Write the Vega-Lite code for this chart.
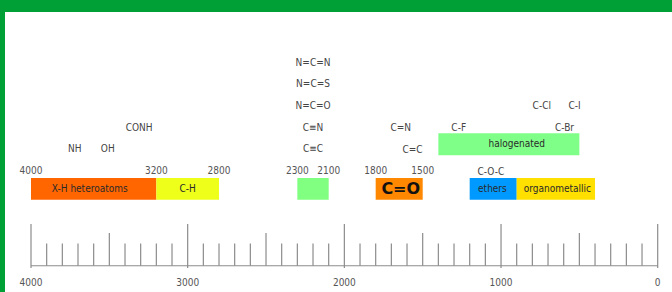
{
  "$schema": "https://vega.github.io/schema/vega-lite/v6.json",
  "width": 672,
  "height": 292,
  "autosize": {"type": "fit", "contains": "padding"},
  "padding": {"top": 12, "left": 5, "right": 0, "bottom": 0},
  "background": "#00A036",
  "config": {
    "view": {"fill": "white", "stroke": null},
    "text": {"font": "DejaVu Sans Condensed"}
  },
  "datasets": {
    "bands": [
      {"name": "XH", "label": "X-H heteroatoms", "from": 4000, "to": 3200, "mid": 3625, "row": "bottom"},
      {"name": "CH", "label": "C-H", "from": 3200, "to": 2800, "mid": 3000, "row": "bottom"},
      {"name": "triple", "label": "", "from": 2300, "to": 2100, "mid": 2200, "row": "bottom"},
      {"name": "CO", "label": "C=O", "from": 1800, "to": 1500, "mid": 1640, "row": "bottom"},
      {"name": "ether", "label": "ethers", "from": 1200, "to": 900, "mid": 1055, "row": "bottom"},
      {"name": "organo", "label": "organometallic", "from": 900, "to": 400, "mid": 640, "row": "bottom"},
      {"name": "halo", "label": "halogenated", "from": 1400, "to": 500, "mid": 900, "row": "upper"}
    ],
    "groups": [
      {"label": "N=C=N", "wn": 2200, "level": 0},
      {"label": "N=C=S", "wn": 2200, "level": 1},
      {"label": "N=C=O", "wn": 2200, "level": 2},
      {"label": "C≡N", "wn": 2200, "level": 3},
      {"label": "C≡C", "wn": 2200, "level": 4},
      {"label": "NH", "wn": 3720, "level": 4},
      {"label": "OH", "wn": 3510, "level": 4},
      {"label": "CONH", "wn": 3310, "level": 3},
      {"label": "C=N", "wn": 1640, "level": 3},
      {"label": "C=C", "wn": 1565, "level": 4.05},
      {"label": "C-F", "wn": 1270, "level": 3},
      {"label": "C-Cl", "wn": 740, "level": 2},
      {"label": "C-I", "wn": 530, "level": 2},
      {"label": "C-Br", "wn": 595, "level": 3},
      {"label": "C-O-C", "wn": 1065, "level": 5.05}
    ],
    "bounds": [
      {"wn": 4000}, {"wn": 3200}, {"wn": 2800}, {"wn": 2300}, {"wn": 2100}, {"wn": 1800}, {"wn": 1500}
    ],
    "ticks": [
      {"wn": 4000, "kind": "major"}, {"wn": 3900, "kind": "minor"}, {"wn": 3800, "kind": "minor"}, {"wn": 3700, "kind": "minor"}, {"wn": 3600, "kind": "minor"},
      {"wn": 3500, "kind": "half"}, {"wn": 3400, "kind": "minor"}, {"wn": 3300, "kind": "minor"}, {"wn": 3200, "kind": "minor"}, {"wn": 3100, "kind": "minor"},
      {"wn": 3000, "kind": "major"}, {"wn": 2900, "kind": "minor"}, {"wn": 2800, "kind": "minor"}, {"wn": 2700, "kind": "minor"}, {"wn": 2600, "kind": "minor"},
      {"wn": 2500, "kind": "half"}, {"wn": 2400, "kind": "minor"}, {"wn": 2300, "kind": "minor"}, {"wn": 2200, "kind": "minor"}, {"wn": 2100, "kind": "minor"},
      {"wn": 2000, "kind": "major"}, {"wn": 1900, "kind": "minor"}, {"wn": 1800, "kind": "minor"}, {"wn": 1700, "kind": "minor"}, {"wn": 1600, "kind": "minor"},
      {"wn": 1500, "kind": "half"}, {"wn": 1400, "kind": "minor"}, {"wn": 1300, "kind": "minor"}, {"wn": 1200, "kind": "minor"}, {"wn": 1100, "kind": "minor"},
      {"wn": 1000, "kind": "major"}, {"wn": 900, "kind": "minor"}, {"wn": 800, "kind": "minor"}, {"wn": 700, "kind": "minor"}, {"wn": 600, "kind": "minor"},
      {"wn": 500, "kind": "half"}, {"wn": 400, "kind": "minor"}, {"wn": 300, "kind": "minor"}, {"wn": 200, "kind": "minor"}, {"wn": 100, "kind": "minor"},
      {"wn": 0, "kind": "major"}
    ],
    "axisline": [{"from": 4000, "to": 0}]
  },
  "encoding": {
    "x": {"field": "wn", "type": "quantitative", "axis": null,
          "scale": {"domain": [-91.27, 4165.95], "reverse": true, "nice": false, "zero": false}}
  },
  "layer": [
    {
      "data": {"name": "bands"},
      "transform": [{"filter": "datum.row === 'bottom'"}],
      "mark": {"type": "rect"},
      "encoding": {
        "x": {"field": "from", "type": "quantitative", "axis": null,
              "scale": {"domain": [-91.27, 4165.95], "reverse": true, "nice": false, "zero": false}},
        "x2": {"field": "to"},
        "y": {"datum": 5.35, "type": "quantitative", "axis": null,
              "scale": {"domain": [-2.372, 10.651], "reverse": true, "nice": false, "zero": false}},
        "y2": {"datum": 6.36},
        "color": {"field": "name", "type": "nominal", "legend": null,
                  "scale": {"domain": ["XH", "CH", "triple", "CO", "ether", "organo", "halo"],
                            "range": ["#FF6600", "#EEFF1A", "#80FF80", "#FF8800", "#0099FF", "#FFE000", "#80FF88"]}}
      }
    },
    {
      "data": {"name": "bands"},
      "transform": [{"filter": "datum.row === 'upper'"}],
      "mark": {"type": "rect"},
      "encoding": {
        "x": {"field": "from", "type": "quantitative"},
        "x2": {"field": "to"},
        "y": {"datum": 3.27, "type": "quantitative"},
        "y2": {"datum": 4.29},
        "color": {"field": "name", "type": "nominal", "legend": null}
      }
    },
    {
      "data": {"name": "bands"},
      "transform": [{"filter": "datum.row === 'bottom' && datum.name !== 'CO'"}],
      "mark": {"type": "text", "fontSize": 10, "color": "#2a2a2a", "baseline": "middle", "align": "center"},
      "encoding": {
        "x": {"field": "mid", "type": "quantitative"},
        "y": {"datum": 5.87, "type": "quantitative"},
        "text": {"field": "label"}
      }
    },
    {
      "data": {"name": "bands"},
      "transform": [{"filter": "datum.name === 'CO'"}],
      "mark": {"type": "text", "fontSize": 16, "font": "DejaVu Sans", "fontWeight": "bold", "color": "#111111", "baseline": "middle", "align": "center"},
      "encoding": {
        "x": {"field": "mid", "type": "quantitative"},
        "y": {"datum": 5.87, "type": "quantitative"},
        "text": {"field": "label"}
      }
    },
    {
      "data": {"name": "bands"},
      "transform": [{"filter": "datum.row === 'upper'"}],
      "mark": {"type": "text", "fontSize": 10, "color": "#2a2a2a", "baseline": "middle", "align": "center"},
      "encoding": {
        "x": {"field": "mid", "type": "quantitative"},
        "y": {"datum": 3.78, "type": "quantitative"},
        "text": {"field": "label"}
      }
    },
    {
      "data": {"name": "groups"},
      "mark": {"type": "text", "fontSize": 10, "color": "#444444", "baseline": "middle", "align": "center"},
      "encoding": {
        "x": {"field": "wn", "type": "quantitative"},
        "y": {"field": "level", "type": "quantitative"},
        "text": {"field": "label"}
      }
    },
    {
      "data": {"name": "bounds"},
      "mark": {"type": "text", "fontSize": 10, "color": "#555555", "baseline": "middle", "align": "center"},
      "encoding": {
        "x": {"field": "wn", "type": "quantitative"},
        "y": {"datum": 5, "type": "quantitative"},
        "text": {"field": "wn", "type": "quantitative", "format": "d"}
      }
    },
    {
      "data": {"name": "ticks"},
      "transform": [{"filter": "datum.kind === 'major'"}],
      "mark": {"type": "rule", "color": "#8c8c8c", "strokeWidth": 1.2},
      "encoding": {
        "x": {"field": "wn", "type": "quantitative"},
        "y": {"datum": 7.49, "type": "quantitative"},
        "y2": {"datum": 9.54}
      }
    },
    {
      "data": {"name": "ticks"},
      "transform": [{"filter": "datum.kind === 'half'"}],
      "mark": {"type": "rule", "color": "#8c8c8c", "strokeWidth": 1.2},
      "encoding": {
        "x": {"field": "wn", "type": "quantitative"},
        "y": {"datum": 7.91, "type": "quantitative"},
        "y2": {"datum": 9.43}
      }
    },
    {
      "data": {"name": "ticks"},
      "transform": [{"filter": "datum.kind === 'minor'"}],
      "mark": {"type": "rule", "color": "#8c8c8c", "strokeWidth": 1.2},
      "encoding": {
        "x": {"field": "wn", "type": "quantitative"},
        "y": {"datum": 8.39, "type": "quantitative"},
        "y2": {"datum": 9.43}
      }
    },
    {
      "data": {"name": "axisline"},
      "mark": {"type": "rule", "color": "#8c8c8c", "strokeWidth": 1.2},
      "encoding": {
        "x": {"field": "from", "type": "quantitative"},
        "x2": {"field": "to"},
        "y": {"datum": 9.43, "type": "quantitative"}
      }
    },
    {
      "data": {"name": "ticks"},
      "transform": [{"filter": "datum.kind === 'major'"}],
      "mark": {"type": "text", "fontSize": 10, "color": "#555555", "baseline": "middle", "align": "center"},
      "encoding": {
        "x": {"field": "wn", "type": "quantitative"},
        "y": {"datum": 10.21, "type": "quantitative"},
        "text": {"field": "wn", "type": "quantitative", "format": "d"}
      }
    }
  ]
}
